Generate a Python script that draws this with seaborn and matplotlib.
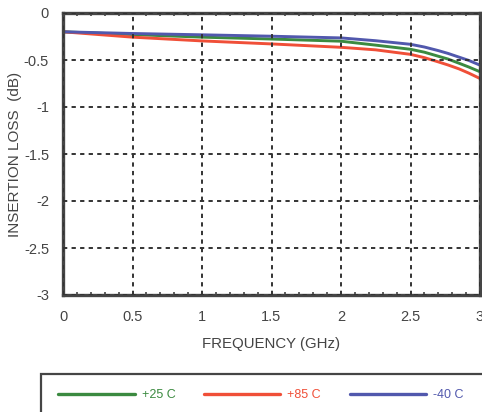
import matplotlib
matplotlib.use("Agg")
import matplotlib.pyplot as plt
from matplotlib.patches import Rectangle
from matplotlib.lines import Line2D
from matplotlib.ticker import MultipleLocator
import seaborn as sns
import pandas as pd

# Insertion loss vs frequency at three temperatures
freq_ghz = [0.0, 0.5, 1.0, 1.5, 2.0, 2.25, 2.5, 2.6, 2.7, 2.77, 2.85, 2.92, 3.0]
loss_25c = [-0.20, -0.229, -0.257, -0.277, -0.300, -0.342, -0.386, -0.417,
            -0.460, -0.490, -0.535, -0.575, -0.625]
loss_85c = [-0.20, -0.257, -0.297, -0.329, -0.365, -0.392, -0.440, -0.475,
            -0.520, -0.553, -0.595, -0.640, -0.697]
loss_m40c = [-0.20, -0.218, -0.232, -0.247, -0.265, -0.295, -0.333, -0.362,
             -0.400, -0.430, -0.470, -0.505, -0.555]
series_names = ["+25 C", "+85 C", "-40 C"]
series_colors = ["#3b8a40", "#f04f38", "#5158ad"]

x_ticks = [0, 0.5, 1, 1.5, 2, 2.5, 3]
x_tick_labels = ["0", "0.5", "1", "1.5", "2", "2.5", "3"]
y_ticks = [0, -0.5, -1, -1.5, -2, -2.5, -3]
y_tick_labels = ["0", "-0.5", "-1", "-1.5", "-2", "-2.5", "-3"]

df = pd.concat([
    pd.DataFrame({"freq": freq_ghz, "loss": vals, "temp": name})
    for name, vals in zip(series_names, [loss_25c, loss_85c, loss_m40c])
])

sns.set_style("white")
plt.rcParams["font.family"] = ["Liberation Sans", "DejaVu Sans"]
text_color = "#444444"
frame_color = "#454545"

fig = plt.figure(figsize=(4.82, 4.12), dpi=100)
W, H = 482, 412
ax = fig.add_axes([63 / W, 1 - 295 / H, (480 - 63) / W, (295 - 13) / H])

sns.lineplot(data=df, x="freq", y="loss", hue="temp", hue_order=series_names,
             palette=series_colors, linewidth=2.1, ax=ax, legend=False,
             estimator=None, sort=True)

ax.set_xlim(0, 3)
ax.set_ylim(-3, 0)
ax.set_xticks(x_ticks)
ax.set_xticklabels(x_tick_labels)
ax.set_yticks(y_ticks)
ax.set_yticklabels(y_tick_labels)
ax.xaxis.set_minor_locator(MultipleLocator(0.1))
ax.tick_params(axis="both", which="major", length=0, labelsize=10.5,
               labelcolor=text_color)
ax.tick_params(axis="x", which="major", pad=11)
ax.tick_params(axis="y", which="major", pad=10)
ax.tick_params(axis="x", which="minor", direction="in", length=2.5,
               width=1.2, color=frame_color, top=True, bottom=True)

ax.grid(True, which="major", color="#333333", linestyle=(0, (2.2, 2.2)),
        linewidth=1.4)
ax.set_axisbelow(False)
for spine in ax.spines.values():
    spine.set_visible(True)
    spine.set_color(frame_color)
    spine.set_linewidth(2.4)

ax.set_xlabel("FREQUENCY (GHz)", fontsize=10.8, color=text_color, labelpad=9)
ax.set_ylabel("INSERTION LOSS  (dB)", fontsize=11, color=text_color)
ax.yaxis.set_label_coords(-0.098, 0.5)

# Legend box running off the lower-right edge of the figure
fig.patches.append(Rectangle((41 / W, -0.1), 1.0, 1 - 374 / H + 0.1,
                             transform=fig.transFigure, fill=False,
                             edgecolor=frame_color, linewidth=1.6))
handles = [Line2D([], [], color=c, linewidth=2.4) for c in series_colors]
leg = fig.legend(handles, series_names, loc="center left",
                 bbox_to_anchor=(52 / W, 1 - 395 / H), ncol=3, borderpad=0,
                 frameon=False, handlelength=6.1, handletextpad=0.56,
                 columnspacing=2.3, fontsize=9, labelcolor=series_colors)

fig.savefig("out.png", dpi=100)
